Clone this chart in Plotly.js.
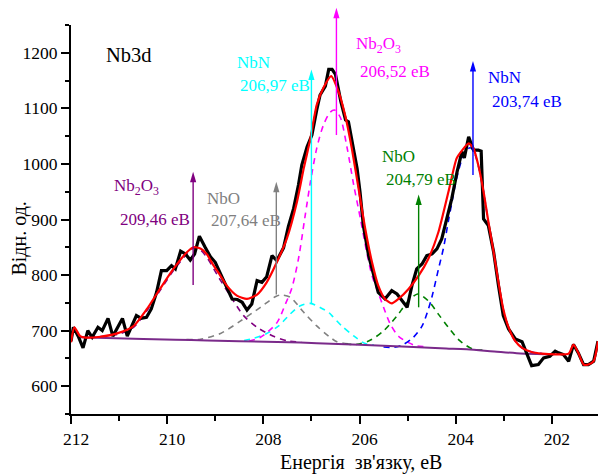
<!DOCTYPE html>
<html><head><meta charset="utf-8">
<script src="https://cdn.plot.ly/plotly-3.0.1.min.js"></script>
<style>html,body{margin:0;padding:0;background:#fff}#chart{width:598px;height:474px}</style>
</head><body><div id="chart"></div>
<script>
// Experimental spectrum (binding energy, eV ; intensity, arb. units)
const expX = [212.00,211.95,211.85,211.75,211.65,211.56,211.44,211.35,211.23,211.13,210.93,210.83,210.64,210.54,210.43,210.33,210.22,210.12,210.01,209.91,209.83,209.72,209.62,209.52,209.43,209.33,209.21,209.10,209.00,208.90,208.76,208.65,208.54,208.44,208.34,208.24,208.13,208.03,207.93,207.82,207.72,207.58,207.48,207.37,207.27,207.20,207.09,206.99,206.89,206.82,206.71,206.64,206.57,206.50,206.39,206.29,206.23,206.16,206.05,205.99,205.92,205.81,205.71,205.61,205.47,205.33,205.22,205.12,205.01,204.91,204.81,204.70,204.60,204.49,204.39,204.29,204.18,204.08,203.97,203.87,203.82,203.73,203.63,203.53,203.47,203.42,203.32,203.21,203.11,203.01,202.90,202.76,202.62,202.52,202.42,202.28,202.17,202.04,201.93,201.86,201.76,201.65,201.55,201.45,201.34,201.24,201.13,201.04];
const expY = [681,706,690,669,700,688,706,700,722,690,722,690,727,722,724,739,769,808,808,817,811,843,838,827,838,870,850,833,823,805,779,757,756,751,737,748,790,787,797,835,826,849,887,920,962,998,1031,1052,1097,1124,1140,1170,1170,1161,1113,1079,1076,1040,992,950,889,835,799,769,757,772,766,754,742,781,811,820,835,838,847,865,901,938,986,1022,1011,1049,1025,1025,1023,901,889,841,781,727,703,685,680,660,637,639,651,654,663,660,657,645,675,660,639,639,645,681];

// Fit envelope
const fitX = [212.00,211.93,211.81,211.70,211.39,211.04,210.70,210.42,210.15,209.87,209.59,209.45,209.31,209.17,209.04,208.90,208.76,208.55,208.34,208.13,207.93,207.72,207.51,207.30,207.16,207.02,206.89,206.75,206.59,206.44,206.30,206.16,206.02,205.88,205.74,205.61,205.47,205.33,205.19,204.98,204.77,204.57,204.36,204.15,203.98,203.87,203.73,203.63,203.53,203.42,203.32,203.21,203.11,203.01,202.90,202.76,202.62,202.42,202.21,201.93,201.65,201.55,201.45,201.34,201.24,201.13,201.04];
const fitY = [679,706,690,687.5,689,695,708,739,775,811,841,850,848,837,818,800,781,763,757,765,787,823,866,932,992,1046,1106,1137,1158,1131,1088,1028,956,883,823,781,757,749,757,775,799,829,877,950,1010,1024,1037,1028,998,950,896,841,787,739,706,681,669,661.5,658.6,657.3,658.6,675,660,639,639,645,681];

// Background
const bgX = [211.85,210.50,209.50,208.50,207.23,206.00,205.00,204.20,203.77,203.20,202.73,202.30,201.95];
const bgY = [688,685,683,681,678.5,674.5,671,668,666.3,662.5,659.5,658,657.3];

// Components (each includes background)
const nb2o3HiX = [211.85,211.40,211.00,210.70,210.42,210.15,209.87,209.59,209.46,209.31,209.17,208.93,208.69,208.41,208.13,207.79,207.51,207.20];
const nb2o3HiY = [688,689.5,694,706,736,772,808,838,848,845,831,796,763,727,706,690,682,679];
const nboHiX = [209.60,209.31,208.89,208.48,208.06,207.73,207.62,207.44,207.16,206.89,206.64,206.47,206.20];
const nboHiY = [684,684.5,695,717,742,762,764,760,733,708.5,690,680,676];
const nbnHiX = [208.40,208.27,207.95,207.68,207.44,207.23,207.02,206.82,206.64,206.57,206.37,206.12,205.88,205.70];
const nbnHiY = [682,684.5,694,708.5,730,744.7,749,741.8,732.7,726.6,708.5,690.4,676.7,674];
const nb2o3LoX = [208.30,208.06,207.72,207.54,207.41,207.27,207.13,207.02,206.89,206.75,206.61,206.52,206.40,206.26,206.12,205.98,205.85,205.74,205.61,205.50,205.36,205.19,204.98,204.81,204.60];
const nb2o3LoY = [681,688,714,748,776,829,907,968,1028,1070,1093,1097,1084,1030,962,901,841,799,768,742,712,690,678.5,672.5,671];
const nboLoX = [206.30,206.05,205.78,205.50,205.22,205.01,204.79,204.57,204.36,204.15,203.91,203.63,203.40];
const nboLoY = [676,675.4,682.6,699.5,726.6,750.8,766,753.7,729.7,705.6,681.4,666.3,665];
const nbnLoX = [205.50,205.29,205.09,204.88,204.70,204.57,204.49,204.36,204.25,204.15,204.08,203.98,203.87,203.77,203.70,203.63,203.53,203.42,203.32,203.21,203.11,203.01,202.90,202.76,202.62,202.42,202.20];
const nbnLoY = [670.5,670,675,688,708,738,762,810,850,898,930,974,1008,1025,1029,1024,997,950,895,840,786,738,705,681,669,661.5,659];

// Peak markers (arrows) and labels
const peakNames = ['Nb<sub>2</sub>O<sub>3</sub>','NbO','NbN','Nb<sub>2</sub>O<sub>3</sub>','NbO','NbN'];
const peakLabels = ['209,46 еВ','207,64 еВ','206,97 еВ','206,52 еВ','204,79 еВ','203,74 еВ'];
const arrowX = [209.46,207.73,207.00,206.48,204.77,203.64];
const arrowTop = [986,968,1170,1281,945,1185];
const arrowBottom = [782,765,749,1052,742,980];

const xTickVals = [212,210,208,206,204,202];
const xTickText = ['212','210','208','206','204','202'];
const yTickVals = [600,700,800,900,1000,1100,1200];
const yTickText = ['600','700','800','900','1000','1100','1200'];

const X_RANGE = [212, 201.04];
const Y_RANGE = [550, 1250];
const PLOT_W = 527, PLOT_H = 389;

const peakColors = ['#800080','#808080','#00ffff','#ff00ff','#008000','#0000ff'];
const nameXY = [[0.0778,0.5835],[0.2543,0.5527],[0.3112,0.9036],[0.537,0.9486],[0.5863,0.6632],[0.7875,0.865]];
const valXY = [[0.0892,0.501],[0.2619,0.4987],[0.3169,0.8432],[0.5446,0.8817],[0.5939,0.6041],[0.795,0.8046]];

const DASH = '6px,5px';
function comp(x, y, c){
  return {x:x, y:y, mode:'lines', line:{color:c, width:1.6, dash:DASH, shape:'spline', smoothing:0.8}, hoverinfo:'skip', showlegend:false};
}
const traces = [
  comp(nb2o3HiX, nb2o3HiY, peakColors[0]),
  comp(nboHiX, nboHiY, peakColors[1]),
  comp(nbnHiX, nbnHiY, peakColors[2]),
  comp(nb2o3LoX, nb2o3LoY, peakColors[3]),
  comp(nboLoX, nboLoY, peakColors[4]),
  comp(nbnLoX, nbnLoY, peakColors[5]),
  {x:bgX, y:bgY, mode:'lines', line:{color:'#7a2a8a', width:2, shape:'spline'}, hoverinfo:'skip', showlegend:false},
  {x:expX, y:expY, mode:'lines', line:{color:'#000', width:3.2}, hoverinfo:'skip', showlegend:false},
  {x:fitX, y:fitY, mode:'lines', line:{color:'#ff0000', width:2.2, shape:'spline', smoothing:0.6}, hoverinfo:'skip', showlegend:false}
];

// arrows as paper-referenced shapes (so the tallest one may rise above the frame)
function px(x){ return (x - X_RANGE[0]) / (X_RANGE[1] - X_RANGE[0]); }
function py(y){ return (y - Y_RANGE[0]) / (Y_RANGE[1] - Y_RANGE[0]); }
const HW = 3.1 / PLOT_W, HL = 10.5 / PLOT_H;
const shapes = [];
for (let i = 0; i < arrowX.length; i++) {
  const x = px(arrowX[i]), yt = py(arrowTop[i]), yb = py(arrowBottom[i]);
  shapes.push({type:'line', xref:'paper', yref:'paper', x0:x, x1:x, y0:yb, y1:yt - HL*0.5, line:{color:peakColors[i], width:1.4}});
  shapes.push({type:'path', xref:'paper', yref:'paper',
    path:'M'+x+','+yt+' L'+(x-HW)+','+(yt-HL)+' L'+(x+HW)+','+(yt-HL)+' Z',
    fillcolor:peakColors[i], line:{width:0}});
}

const FONT = 'Liberation Serif';
const ann = [];
for (let i = 0; i < arrowX.length; i++) {
  ann.push({xref:'paper', yref:'paper', x:nameXY[i][0], y:nameXY[i][1], xanchor:'left', yanchor:'middle', showarrow:false,
    text:peakNames[i], font:{family:FONT, size:17, color:peakColors[i]}});
  ann.push({xref:'paper', yref:'paper', x:valXY[i][0], y:valXY[i][1], xanchor:'left', yanchor:'middle', showarrow:false,
    text:peakLabels[i], font:{family:FONT, size:17, color:peakColors[i]}});
}
ann.push({xref:'paper', yref:'paper', x:0.0626, y:0.923, xanchor:'left', yanchor:'middle', showarrow:false,
  text:'Nb3d', font:{family:FONT, size:20.5, color:'#000'}});
ann.push({xref:'paper', yref:'paper', x:0.5503, y:-0.1234, xanchor:'center', yanchor:'middle', showarrow:false,
  text:'Енергія\u00a0 зв\'язку, еВ', font:{family:FONT, size:20, color:'#000'}});
ann.push({xref:'paper', yref:'paper', x:-0.0985, y:0.4512, xanchor:'center', yanchor:'middle', showarrow:false, textangle:-90,
  text:'Відн. од.', font:{family:FONT, size:20, color:'#000'}});

const layout = {
  width:598, height:474,
  margin:{l:71, r:0, t:25, b:60, pad:0},
  paper_bgcolor:'#fff', plot_bgcolor:'#fff',
  showlegend:false,
  font:{family:FONT, color:'#000', size:17.5},
  xaxis:{range:X_RANGE, tickmode:'array', tickvals:xTickVals, ticktext:xTickText, ticks:'outside', ticklen:8, tickwidth:2, tickcolor:'#000',
    showline:true, linewidth:2, linecolor:'#000', showgrid:false, zeroline:false, tickfont:{family:FONT, size:17.5},
    ticklabelshift:-5,
    minor:{dtick:1, tick0:0, ticks:'outside', ticklen:4.5, tickwidth:2, tickcolor:'#000', showgrid:false}},
  yaxis:{range:Y_RANGE, tickmode:'array', tickvals:yTickVals, ticktext:yTickText, ticks:'outside', ticklen:8, tickwidth:2, tickcolor:'#000',
    showline:true, linewidth:2, linecolor:'#000', showgrid:false, zeroline:false, tickfont:{family:FONT, size:17.5},
    minor:{dtick:50, tick0:0, ticks:'outside', ticklen:4.5, tickwidth:2, tickcolor:'#000', showgrid:false}},
  shapes: shapes,
  annotations: ann
};
Plotly.newPlot('chart', traces, layout, {staticPlot:true, displayModeBar:false});
</script>
</body></html>
